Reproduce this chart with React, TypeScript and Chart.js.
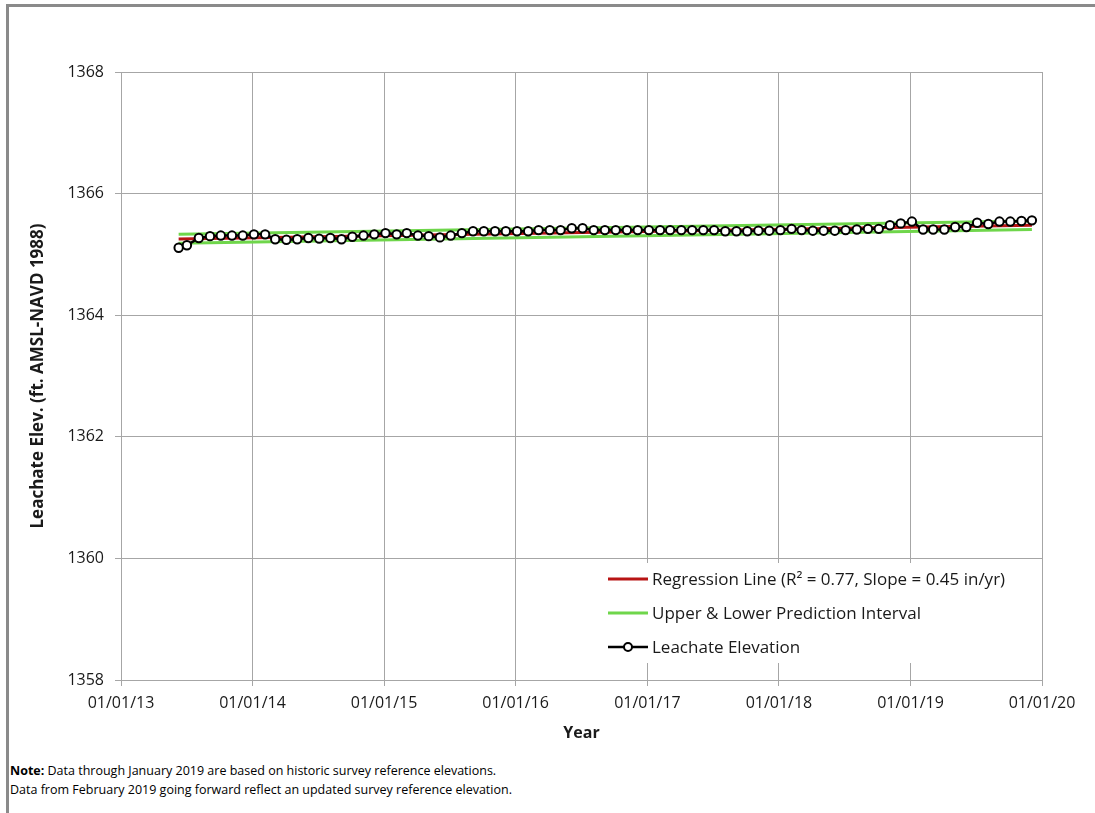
import React, { useEffect, useRef } from 'react';
import { Chart, registerables } from 'chart.js';

Chart.register(...registerables);

// ---------- data ----------
const sampleDates = [
  '2013-06-10', '2013-07-03', '2013-08-05', '2013-09-05', '2013-10-05', '2013-11-05', '2013-12-05',
  '2014-01-05', '2014-02-05', '2014-03-05', '2014-04-05', '2014-05-05', '2014-06-05', '2014-07-05', '2014-08-05', '2014-09-05', '2014-10-05', '2014-11-05', '2014-12-05',
  '2015-01-05', '2015-02-05', '2015-03-05', '2015-04-05', '2015-05-05', '2015-06-05', '2015-07-05', '2015-08-05', '2015-09-05', '2015-10-05', '2015-11-05', '2015-12-05',
  '2016-01-05', '2016-02-05', '2016-03-05', '2016-04-05', '2016-05-05', '2016-06-05', '2016-07-05', '2016-08-05', '2016-09-05', '2016-10-05', '2016-11-05', '2016-12-05',
  '2017-01-05', '2017-02-05', '2017-03-05', '2017-04-05', '2017-05-05', '2017-06-05', '2017-07-05', '2017-08-05', '2017-09-05', '2017-10-05', '2017-11-05', '2017-12-05',
  '2018-01-05', '2018-02-05', '2018-03-05', '2018-04-05', '2018-05-05', '2018-06-05', '2018-07-05', '2018-08-05', '2018-09-05', '2018-10-05', '2018-11-05', '2018-12-05',
  '2019-01-05', '2019-02-05', '2019-03-05', '2019-04-05', '2019-05-05', '2019-06-05', '2019-07-05', '2019-08-05', '2019-09-05', '2019-10-05', '2019-11-05', '2019-12-04',
];

const leachateElevation = [
  1365.11, 1365.15, 1365.27, 1365.30, 1365.31, 1365.31, 1365.31,
  1365.33, 1365.33, 1365.25, 1365.24, 1365.25, 1365.27, 1365.26, 1365.27, 1365.25, 1365.29, 1365.31, 1365.33,
  1365.35, 1365.33, 1365.35, 1365.31, 1365.30, 1365.28, 1365.31, 1365.35, 1365.38, 1365.38, 1365.38, 1365.38,
  1365.38, 1365.38, 1365.40, 1365.40, 1365.40, 1365.43, 1365.43, 1365.40, 1365.40, 1365.40, 1365.40, 1365.40,
  1365.40, 1365.40, 1365.40, 1365.40, 1365.40, 1365.40, 1365.40, 1365.38, 1365.38, 1365.38, 1365.39, 1365.39,
  1365.40, 1365.42, 1365.40, 1365.39, 1365.39, 1365.39, 1365.40, 1365.41, 1365.42, 1365.42, 1365.48, 1365.51,
  1365.54, 1365.41, 1365.41, 1365.41, 1365.45, 1365.45, 1365.52, 1365.50, 1365.54, 1365.54, 1365.55, 1365.56,
];

const regressionEnds = [1365.255, 1365.48];
const upperIntervalEnds = [1365.33, 1365.55];
const lowerIntervalEnds = [1365.185, 1365.41];

const xTickYears = [2013, 2014, 2015, 2016, 2017, 2018, 2019, 2020];
const xTickLabels = ['01/01/13', '01/01/14', '01/01/15', '01/01/16', '01/01/17', '01/01/18', '01/01/19', '01/01/20'];
const yTickValues = [1358, 1360, 1362, 1364, 1366, 1368];

const legendLabels = [
  'Regression Line (R\u00B2 = 0.77, Slope = 0.45 in/yr)',
  'Upper & Lower Prediction Interval',
  'Leachate Elevation',
];

// ---------- styles ----------
const FONT = '"Open Sans", "Noto Sans", sans-serif';
const TEXT = '#1a1a1a';
const GRID = '#a6a6a6';
const RED = '#b81414';
const GREEN = '#6fd64b';

const toMs = (s: string) => {
  const [y, m, d] = s.split('-').map(Number);
  return Date.UTC(y, m - 1, d);
};

const legendPlugin = {
  id: 'customLegend',
  afterDraw(chart: any) {
    const ctx = chart.ctx as CanvasRenderingContext2D;
    ctx.save();
    ctx.fillStyle = '#ffffff';
    ctx.fillRect(591, 556, 430, 100);
    const items = [
      { color: RED, width: 3, marker: false },
      { color: GREEN, width: 3, marker: false },
      { color: '#000000', width: 2.5, marker: true },
    ];
    items.forEach((it, i) => {
      const y = 572 + i * 34;
      ctx.strokeStyle = it.color;
      ctx.lineWidth = it.width;
      ctx.beginPath();
      ctx.moveTo(599, y);
      ctx.lineTo(639, y);
      ctx.stroke();
      if (it.marker) {
        ctx.beginPath();
        ctx.arc(619, y, 4, 0, Math.PI * 2);
        ctx.fillStyle = '#ffffff';
        ctx.fill();
        ctx.lineWidth = 2;
        ctx.strokeStyle = '#000000';
        ctx.stroke();
      }
      ctx.fillStyle = TEXT;
      ctx.font = `17px ${FONT}`;
      ctx.textBaseline = 'middle';
      ctx.textAlign = 'left';
      ctx.fillText(legendLabels[i], 643, y + 1);
    });
    ctx.restore();
  },
};

export default function App() {
  const canvasRef = useRef<HTMLCanvasElement | null>(null);

  useEffect(() => {
    if (!canvasRef.current) return;
    const xs = sampleDates.map(toMs);
    const first = xs[0];
    const last = xs[xs.length - 1];

    const chart = new Chart(canvasRef.current, {
      type: 'line',
      data: {
        datasets: [
          {
            label: 'Leachate Elevation',
            data: xs.map((x, i) => ({ x, y: leachateElevation[i] })),
            borderColor: '#000000',
            borderWidth: 2.5,
            pointRadius: 4.2,
            pointBorderWidth: 2,
            pointBackgroundColor: '#ffffff',
            pointBorderColor: '#000000',
            order: 0,
          },
          {
            label: 'Regression Line',
            data: [{ x: first, y: regressionEnds[0] }, { x: last, y: regressionEnds[1] }],
            borderColor: RED,
            borderWidth: 3,
            pointRadius: 0,
            order: 1,
          },
          {
            label: 'Upper Prediction Interval',
            data: [{ x: first, y: upperIntervalEnds[0] }, { x: last, y: upperIntervalEnds[1] }],
            borderColor: GREEN,
            borderWidth: 3,
            pointRadius: 0,
            order: 2,
          },
          {
            label: 'Lower Prediction Interval',
            data: [{ x: first, y: lowerIntervalEnds[0] }, { x: last, y: lowerIntervalEnds[1] }],
            borderColor: GREEN,
            borderWidth: 3,
            pointRadius: 0,
            order: 3,
          },
        ],
      },
      options: {
        animation: false,
        responsive: false,
        events: [],
        layout: { padding: { top: 65, right: 53, left: 0, bottom: 0 } },
        plugins: {
          legend: { display: false },
          tooltip: { enabled: false },
        },
        scales: {
          x: {
            type: 'linear',
            min: Date.UTC(2013, 0, 1),
            max: Date.UTC(2020, 0, 1),
            afterBuildTicks: (s: any) => {
              s.ticks = xTickYears.map((y) => ({ value: Date.UTC(y, 0, 1) }));
            },
            afterFit: (s: any) => {
              s.height = 75;
            },
            ticks: {
              autoSkip: false,
              maxRotation: 0,
              padding: 8,
              color: TEXT,
              font: { family: FONT, size: 16 },
              callback: (_v: any, i: number) => xTickLabels[i],
            },
            grid: { color: GRID, tickLength: 6 },
            border: { color: GRID },
            title: {
              display: true,
              text: 'Year',
              color: TEXT,
              font: { family: FONT, size: 16, weight: 'bold' },
              padding: { top: 0, bottom: 12 },
            },
          },
          y: {
            type: 'linear',
            min: 1358,
            max: 1368,
            afterBuildTicks: (s: any) => {
              s.ticks = yTickValues.map((v) => ({ value: v }));
            },
            afterFit: (s: any) => {
              s.width = 112;
            },
            ticks: {
              padding: 11,
              color: TEXT,
              font: { family: FONT, size: 16 },
              callback: (v: any) => String(v),
            },
            grid: { color: GRID, tickLength: 6 },
            border: { color: GRID },
            title: {
              display: true,
              text: 'Leachate Elev. (ft. AMSL-NAVD 1988)',
              color: TEXT,
              font: { family: FONT, size: 17, weight: 'bold' },
              padding: { top: 19, bottom: 0 },
            },
          },
        },
      } as any,
      plugins: [legendPlugin],
    });
    return () => chart.destroy();
  }, []);

  return (
    <div
      style={{
        position: 'absolute',
        left: 6,
        top: 4,
        width: 1089,
        height: 809,
        boxSizing: 'border-box',
        borderLeft: '3px solid #8a8a8a',
        borderTop: '3px solid #8a8a8a',
        background: '#ffffff',
        overflow: 'hidden',
      }}
    >
      <canvas
        ref={canvasRef}
        width={1086}
        height={748}
        style={{ position: 'absolute', left: 0, top: 0, width: 1086, height: 748 }}
      />
      <div
        style={{
          position: 'absolute',
          left: 1,
          top: 754,
          fontFamily: FONT,
          fontSize: 12.5,
          lineHeight: '19px',
          color: '#000000',
          whiteSpace: 'nowrap',
        }}
      >
        <b>Note:</b> Data through January 2019 are based on historic survey reference elevations.
        <br />
        Data from February 2019 going forward reflect an updated survey reference elevation.
      </div>
    </div>
  );
}
